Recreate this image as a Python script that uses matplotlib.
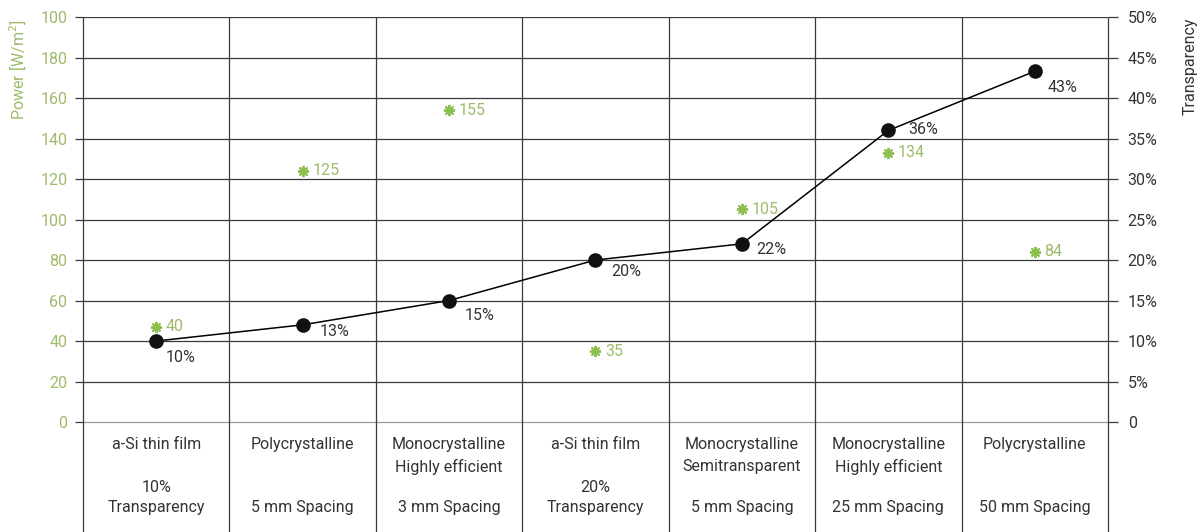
import matplotlib.pyplot as plt

# module types (table under the chart)
module_types = ['a-Si thin film', 'Polycrystalline', 'Monocrystalline',
                'a-Si thin film', 'Monocrystalline', 'Monocrystalline',
                'Polycrystalline']
module_subtypes = ['', '', 'Highly efficient', '', 'Semitransparent',
                   'Highly efficient', '']
module_notes = ['10%', '', '', '20%', '', '', '']
module_specs = ['Transparency', '5 mm Spacing', '3 mm Spacing', 'Transparency',
                '5 mm Spacing', '25 mm Spacing', '50 mm Spacing']

# power [W/m2] as drawn, and the printed labels
power = [47, 124, 154, 35, 105, 133, 84]
power_labels = ['40', '125', '155', '35', '105', '134', '84']

# transparency [%] as drawn, and the printed labels
transparency = [10, 12, 15, 20, 22, 36, 43.3]
transparency_labels = ['10%', '13%', '15%', '20%', '22%', '36%', '43%']

power_ticks = [0, 20, 40, 60, 80, 100, 120, 140, 160, 180, 200]
power_ticklabels = ['0', '20', '40', '60', '80', '100', '120', '140', '160', '180', '100']
transp_ticks = [0, 5, 10, 15, 20, 25, 30, 35, 40, 45, 50]
transp_ticklabels = ['0'] + [f'{t}%' for t in transp_ticks[1:]]

plt.rcParams['font.family'] = ['Roboto', 'DejaVu Sans']
plt.rcParams['font.weight'] = 'normal'

green = '#8cc04f'
green_text = '#9dbb6c'
grid_c = '#3a3a3a'
text_c = '#333333'
fs = 11.5

fig = plt.figure(figsize=(12.03, 5.32), dpi=100)
ax = fig.add_axes([0.069, 0.0, 0.852, 0.968])

n = len(module_types)
ymin = -54.3
ax.set_xlim(0, n)
ax.set_ylim(ymin, 200)
for s in ax.spines.values():
    s.set_visible(False)

# grid
for t in power_ticks:
    ax.axhline(t, color=grid_c if t > 0 else '#9a9a9a', lw=0.9, zorder=1)
ax.vlines(range(n + 1), ymin, 200, color=grid_c, lw=0.9, zorder=1, clip_on=False)

ax.set_xticks([])
ax.set_yticks(power_ticks)
ax.set_yticklabels(power_ticklabels)
ax.tick_params(axis='y', length=5.8, width=0.9, color=grid_c, pad=5.5,
               labelsize=fs, labelcolor=green_text)

xs = [i + 0.5 for i in range(n)]

# power points
ax.plot(xs, power, linestyle='none', marker=(8, 2, 0), ms=8, mew=1.4,
        color=green, zorder=3)
for x, y, lab in zip(xs, power, power_labels):
    ax.annotate(lab, (x, y), xytext=(7, 0), textcoords='offset points',
                ha='left', va='center', fontsize=fs, color=green_text)

# transparency on the right axis
ax2 = ax.twinx()
ax2.set_ylim(ymin / 4, 50)
for s in ax2.spines.values():
    s.set_visible(False)
ax2.set_yticks(transp_ticks)
ax2.set_yticklabels(transp_ticklabels)
ax2.tick_params(axis='y', length=7.2, width=0.9, color=grid_c, pad=7,
                labelsize=fs, labelcolor=text_c)
ax2.plot(xs, transparency, color='black', lw=1.1, marker='o', ms=9.5,
         mfc='#111111', mec='#111111', zorder=4)
label_offsets = [(7, -12), (12, -5), (11, -11), (11, -8), (10, -4), (14, 1), (9, -12)]
for x, y, lab, off in zip(xs, transparency, transparency_labels, label_offsets):
    ax2.annotate(lab, (x, y), xytext=off, textcoords='offset points',
                 ha='left', va='center', fontsize=fs, color=text_c)

# table text under the chart
row_y = [-11.3, -22.2, -32.5, -42.4]
for x, a, b, c, d in zip(xs, module_types, module_subtypes, module_notes, module_specs):
    for y, lab in zip(row_y, [a, b, c, d]):
        if lab:
            ax.text(x, y, lab, ha='center', va='center', fontsize=fs, color=text_c)

# axis titles
fig.text(0.015, 0.87, 'Power [W/m$^2$]', rotation=90, ha='center', va='center',
         fontsize=fs, color=green_text)
fig.text(0.989, 0.875, 'Transparency', rotation=90, ha='center', va='center',
         fontsize=fs, color=text_c)

plt.savefig('out.png', dpi=100)
plt.close()
